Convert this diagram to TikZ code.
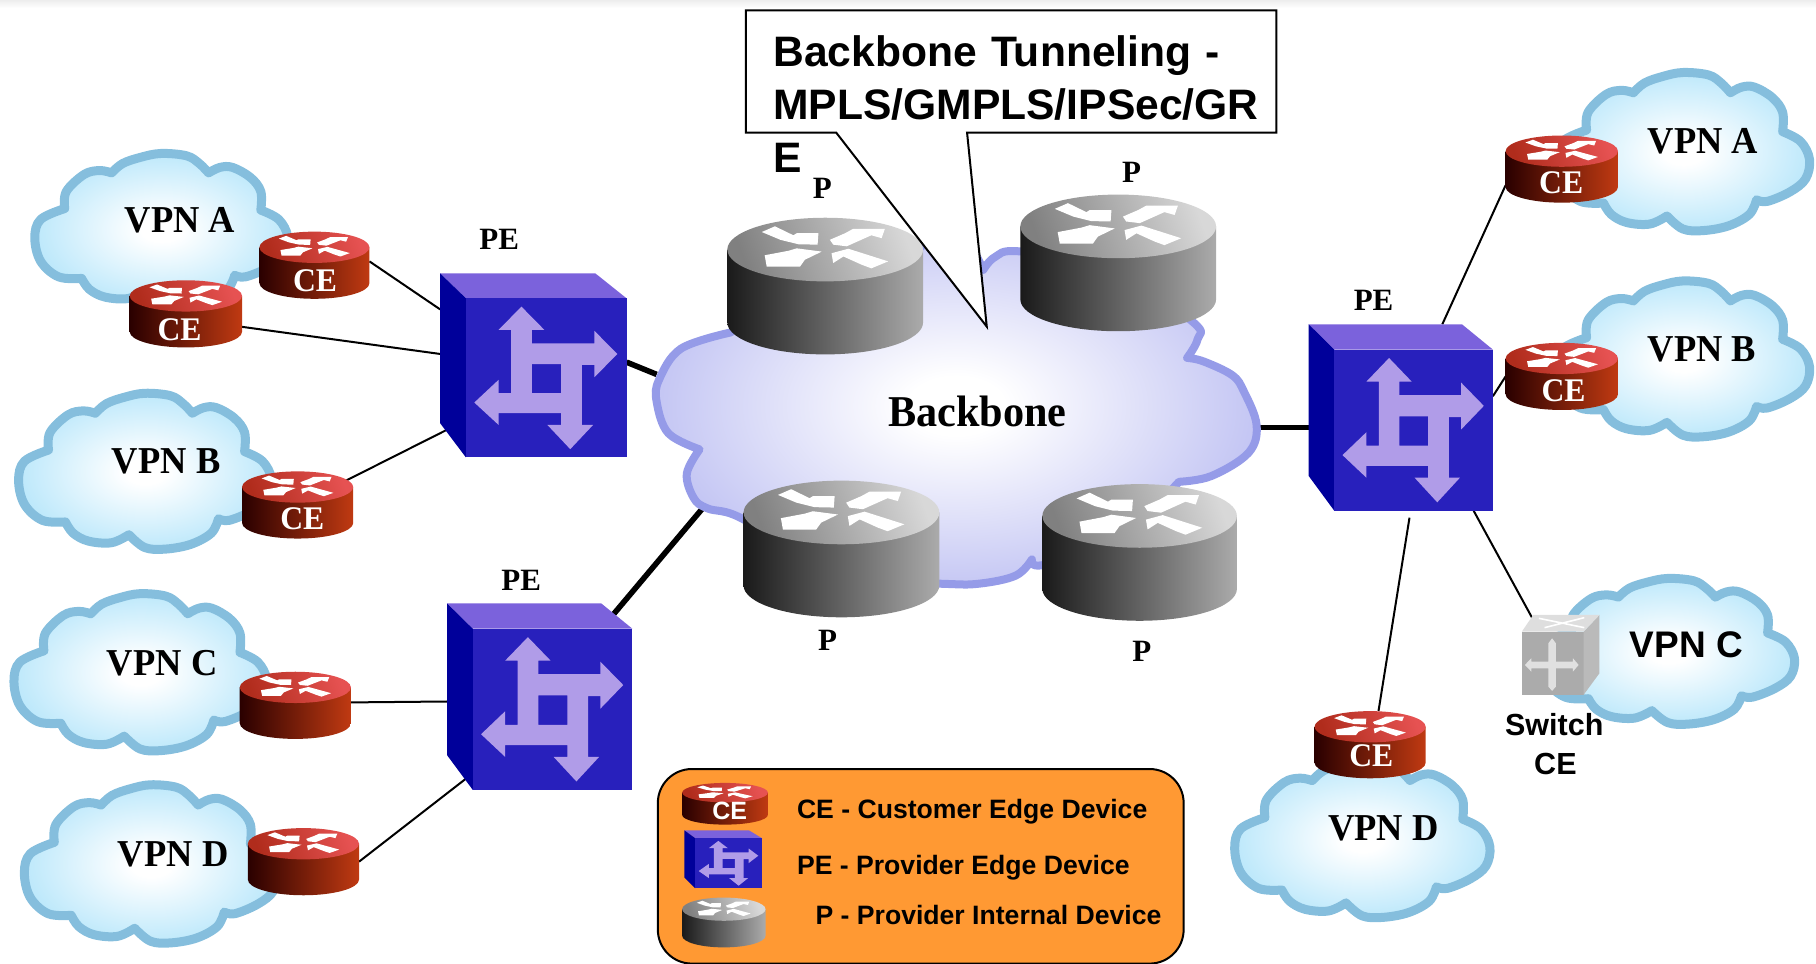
\documentclass[tikz,border=0pt]{standalone}
\usepackage{fontspec}
\setmainfont{Liberation Serif}
\newfontfamily\arl{Liberation Sans}
\usetikzlibrary{calc}
\pgfdeclarelayer{conn}\pgfdeclarelayer{cld}\pgfdeclarelayer{dev}
\pgfsetlayers{conn,cld,dev,main}
\def\U{1.15816}
\definecolor{bodyLP}{HTML}{1A1A1A}\definecolor{bodyRP}{HTML}{ABABAB}
\definecolor{topLP}{HTML}{808080}\definecolor{topRP}{HTML}{D8D8D8}
\definecolor{bodyLC}{HTML}{2A0000}\definecolor{bodyRC}{HTML}{C03A12}
\definecolor{topLC}{HTML}{B02C1C}\definecolor{topRC}{HTML}{E65252}
\definecolor{vpnline}{HTML}{85BEDD}\definecolor{bbline}{HTML}{959BE8}
\definecolor{peTop}{HTML}{7B62DC}\definecolor{peSide}{HTML}{00009A}
\definecolor{peFace}{HTML}{2820BC}\definecolor{peSym}{HTML}{B09CE8}
\definecolor{legendbg}{HTML}{FF9933}
\pgfdeclareradialshading{vpnshade}{\pgfpoint{0bp}{0bp}}{rgb(0bp)=(1,1,1); rgb(4bp)=(1,1,1); rgb(30bp)=(.68,.89,.98); rgb(100bp)=(.68,.89,.98)}
\pgfdeclareradialshading{bbshade}{\pgfpoint{0bp}{0bp}}{rgb(0bp)=(1,1,1); rgb(4bp)=(1,1,1); rgb(32bp)=(.69,.70,.94); rgb(100bp)=(.69,.70,.94)}
\tikzset{
  devnode/.style={inner sep=0pt,outer sep=0pt,draw=none,fill=none,rectangle},
  serif/.style={inner sep=0pt,font=\bfseries\fontsize{#1}{#1}\selectfont},
  sans/.style={inner sep=0pt,font=\arl\bfseries\fontsize{#1}{#1}\selectfont},
  thin link/.style={line width=2pt,black},
  thick link/.style={line width=5.6pt,black},
  topmark/.style={fill=white,draw=none},
}
\newcommand{\cnd}[1]{\scalebox{.96}[1]{#1}}
\newcommand{\devbox}[5]{%
  \pgfmathsetmacro\bw{(#4-#2)*\U}\pgfmathsetmacro\bh{(#5-#3)*\U}%
  \node[devnode,minimum width=\bw pt,minimum height=\bh pt] (#1) at ({(#2+#4)/2},{(#3+#5)/2}) {};}
% router: name x0 y0 x1 y1 scheme
\newcommand{\rtr}[6]{%
  \devbox{#1}{#2}{#3}{#4}{#5}%
  \begin{pgfonlayer}{dev}
  \pgfmathsetmacro\sx{(#4-#2)/477}\pgfmathsetmacro\sy{(#5-#3)/335}%
  \begin{scope}[shift={(#2,#3)},xscale=\sx,yscale=\sy]
    \shade[left color=bodyL#6,right color=bodyR#6] (0,78) -- (0,257) arc[start angle=180,end angle=0,x radius=238.5,y radius=78] -- (477,78) -- cycle;
    \shade[bottom color=topL#6,top color=topR#6,shading angle=-70] (238.5,78) ellipse[x radius=238.5,y radius=78];
    \fill[topmark] (84,35) -- (116,21) -- (161,43) -- (169,38) -- (222,38) -- (220,66) -- (173,65) -- (129,54) -- cycle;
    \fill[topmark] (250,54) -- (287,38) -- (307,27) -- (384,27) -- (376,50) -- (351,43) -- (291,70) -- (258,66) -- cycle;
    \fill[topmark] (91,92) -- (149,81) -- (169,75) -- (230,83) -- (189,103) -- (177,120) -- (96,120) -- cycle;
    \fill[topmark] (254,87) -- (295,76) -- (392,107) -- (351,124) -- (327,115) -- (283,95) -- (258,111) -- cycle;
  \end{scope}
  \end{pgfonlayer}}
% provider edge box
\newcommand{\pedev}[5]{%
  \devbox{#1}{#2}{#3}{#4}{#5}%
  \begin{pgfonlayer}{dev}
  \pgfmathsetmacro\sx{(#4-#2)/447}\pgfmathsetmacro\sy{(#5-#3)/553}%
  \begin{scope}[shift={(#2,#3)},xscale=\sx,yscale=\sy]
    \fill[peTop] (0,0) -- (372,0) -- (447,75) -- (62,75) -- cycle;
    \fill[peSide] (0,0) -- (62,75) -- (62,553) -- (0,450) -- cycle;
    \fill[peFace] (62,75) rectangle (447,553);
    \fill[peSym,even odd rule] (195,100) -- (250,170) -- (220,170) -- (220,210) -- (370,210) -- (370,173) -- (425,242) -- (370,312) -- (370,275) -- (340,275) -- (340,455) -- (367,455) -- (312,528) -- (257,455) -- (290,455) -- (290,420) -- (140,420) -- (140,455) -- (82,388) -- (140,320) -- (140,360) -- (170,360) -- (170,170) -- (140,170) -- cycle (220,273) rectangle (290,360);
  \end{scope}
  \end{pgfonlayer}}
\def\vpnoutline{plot[smooth,tension=.6] coordinates {(30.7,14) (35,8) (42,4) (50,1.5) (60,3) (65,8) (68.6,14)}
      -- plot[smooth,tension=.6] coordinates {(68.6,14) (73,10.5) (78,10.5) (85,17) (89,26) (89,38)}
      -- plot[smooth,tension=.6] coordinates {(89,38) (96,44) (99.5,55) (98,67) (92,75) (83,81) (78.8,80)}
      -- plot[smooth,tension=.6] coordinates {(78.8,80) (76,89) (68,96) (58,99) (50,98) (43.8,90)}
      -- plot[smooth,tension=.6] coordinates {(43.8,90) (37,95) (28,94) (22,89) (19,82)}
      -- plot[smooth,tension=.6] coordinates {(19,82) (10,81) (3,71) (0.7,56) (3,44) (12.4,37)}
      -- plot[smooth,tension=.6] coordinates {(12.4,37) (13,26) (20,15) (26,12.5) (30.7,14)} -- cycle}
\def\bboutline{plot[smooth,tension=.6] coordinates {(631,287) (588,301) (569,328) (567,347) (577,374) (604,388)}
  -- plot[smooth,tension=.6] coordinates {(604,388) (593,409) (599,430) (611,439) (643,449) (720,500) (812,504) (845,504) (877,497) (891,483)}
  -- plot[smooth,tension=.6] coordinates {(891,483) (900,488) (960,470) (1018,416)}
  -- plot[smooth,tension=.6] coordinates {(1018,416) (1046,411) (1078,391) (1085,367) (1074,338) (1064,324) (1039,312) (1025,309)}
  -- plot[smooth,tension=.6] coordinates {(1025,309) (1034,293) (1030,278) (960,230) (880,217) (859,222) (849,233)}
  -- plot[smooth,tension=.6] coordinates {(849,233) (825,195) (797,212) (780,220) (700,235) (631,287)} -- cycle}
% cloud: name x0 y0 x1 y1
\newcommand{\cldvpn}[5]{%
  \devbox{#1}{#2}{#3}{#4}{#5}%
  \begin{pgfonlayer}{cld}
  \pgfmathsetmacro\sx{(#4-#2-5)/100}\pgfmathsetmacro\sy{(#5-#3-5)/100}%
  \begin{scope}[shift={(#2+2.5,#3+2.5)},xscale=\sx,yscale=\sy]
    \shade[shading=vpnshade] \vpnoutline;
  \end{scope}
  \begin{scope}[shift={(#2+2.5,#3+2.5)},xscale=\sx,yscale=\sy,line width=9pt]
    \draw[vpnline,line width=9pt,line join=round] \vpnoutline;
  \end{scope}
  \end{pgfonlayer}}
\begin{document}
\begin{tikzpicture}[x=1.15816pt,y=-1.15816pt]
\useasboundingbox (0,0) rectangle (1568,831.5);
\begin{pgfonlayer}{conn}
  \shade[top color=black!7,bottom color=white] (0,0) rectangle (1568,7);
\end{pgfonlayer}

% clouds
\cldvpn{vpnAl}{26}{128}{252}{267}
\cldvpn{vpnBl}{12}{335}{238}{478}
\cldvpn{vpnCl}{8}{508}{234}{652}
\cldvpn{vpnDl}{17}{673}{243}{818}
\cldvpn{vpnAr}{1340}{58}{1566}{203}
\cldvpn{vpnBr}{1340}{238}{1566}{381}
\cldvpn{vpnCr}{1327}{495}{1553}{629}
\cldvpn{vpnDb}{1062}{652}{1290}{796}
\devbox{bbone}{567}{197}{1085}{504}
\begin{pgfonlayer}{cld}
\shade[shading=bbshade] \bboutline;
\draw[bbline,line width=8pt,line join=round] \bboutline;
% legend panel
\draw[fill=legendbg,draw=black,line width=2pt,rounded corners=34pt] (568,664) rectangle (1022,832);
\end{pgfonlayer}

% routers
\rtr{ceA1}{224}{200}{319}{258}{C}
\rtr{ceA2}{112}{242}{209}{300}{C}
\rtr{ceB}{209}{407}{305}{465}{C}
\rtr{ceC}{207}{580}{303}{638}{C}
\rtr{ceDl}{214}{715}{310}{773}{C}
\rtr{ceAr}{1300}{117}{1397}{175}{C}
\rtr{ceBr}{1300}{296}{1397}{354}{C}
\rtr{ceDb}{1135}{614}{1231}{672}{C}
\rtr{p1}{628}{188}{797}{306}{P}
\rtr{p2}{881}{168}{1050}{286}{P}
\rtr{p3}{642}{415}{811}{533}{P}
\rtr{p4}{900}{418}{1068}{536}{P}

% PE boxes
\pedev{pe1}{380}{236}{541}{395}
\pedev{pe2}{386}{521}{546}{682}
\pedev{pe3}{1130}{280}{1289}{441}

% switch CE
\devbox{swc}{1314}{531}{1381}{600}
\begin{pgfonlayer}{dev}
\begin{scope}[shift={(1314,531)},xscale={67/205},yscale={69/240}]
  \fill[black!33] (0,50) rectangle (163,240);
  \fill[black!27] (163,50) -- (205,0) -- (205,175) -- (163,240) -- cycle;
  \fill[black!13] (0,50) -- (30,0) -- (205,0) -- (163,50) -- cycle;
  \draw[white,line width=1.6pt] (45,10) -- (165,38) (60,38) -- (165,8);
  \fill[black!12] (70,85) -- (80,70) -- (90,85) -- (90,140) -- (135,140) -- (135,130) -- (150,150) -- (135,170) -- (135,160) -- (90,160) -- (90,215) -- (80,228) -- (70,215) -- (70,160) -- (25,160) -- (25,170) -- (8,150) -- (25,130) -- (25,140) -- (70,140) -- cycle;
\end{scope}
\end{pgfonlayer}

% free ends of connectors that finish inside a shape
\coordinate (pe1sw) at (392,368);
\coordinate (pe2sw) at (404,671);
\coordinate (pe2ne) at (525,536);
\coordinate (bbsw) at (620,423);
\coordinate (swtop) at (1327,541);

% connectors
\begin{pgfonlayer}{conn}
  \draw[thin link] (ceA1.4) -- (pe1.149);
  \draw[thin link] (ceA2.-13) -- (pe1.173);
  \draw[thin link] (ceB.center) -- (pe1sw);
  \draw[thin link] (ceC.3) -- (pe2.183);
  \draw[thin link] (ceDl.east) -- (pe2sw);
  \draw[thin link] (ceAr.196) -- (pe3.66.2);
  \draw[thin link] (ceBr.west) -- (pe3.13);
  \draw[thin link] (pe3.-52.6) -- (swtop);
  \draw[thin link,shorten >=7pt] (ceDb.76) -- (pe3.-84.7);
  \draw[thick link] (pe1.2) -- (bbone.174);
  \draw[thick link] (pe2ne) -- (bbsw);
  \draw[thick link] (pe3.west |- 0,369) -- (bbone.east |- 0,369);
\end{pgfonlayer}

% callout
\coordinate (ctip) at (852,282);
\coordinate (cb1) at (722,114.5);
\coordinate (cb2) at (835,114.5);
\filldraw[fill=white,draw=black,line width=2pt,line join=miter] (644,9) -- (1102,9) -- (1102,114.5) -- (cb2) -- (ctip) -- (cb1) -- (644,114.5) -- cycle;
\node[inner sep=0pt,anchor=north west,align=left,text width=480pt,font=\arl\bfseries\fontsize{42.6}{53}\selectfont] (calltxt) at (667.5,30.5)
  {Backbone Tunneling -\\MPLS/GMPLS/IPSec/GR\\E};

% labels
\node[serif=38] (tAl) at (155.5,190.5) {\cnd{VPN A}};
\node[serif=38] (tBl) at (143.5,398) {\cnd{VPN B}};
\node[serif=38] (tCl) at (140,572.5) {\cnd{VPN C}};
\node[serif=38] (tDl) at (149.5,738) {\cnd{VPN D}};
\node[serif=38] (tAr) at (1470.5,122) {\cnd{VPN A}};
\node[serif=38] (tBr) at (1469.5,301.5) {\cnd{VPN B}};
\node[sans=37] (tCr) at (1456,556.5) {VPN C};
\node[serif=38] (tDb) at (1194.5,715.5) {\cnd{VPN D}};
\node[serif=44] (tbb) at (844,355) {\cnd{Backbone}};
\node[serif=31] (tpe1) at (431,207) {PE};
\node[serif=31] (tpe2) at (450,501) {PE};
\node[serif=31] (tpe3) at (1186,259) {PE};
\node[serif=31] (tp1) at (710,162.5) {P};
\node[serif=31] (tp2) at (977,148.5) {P};
\node[serif=31] (tp3) at (714.5,552.5) {P};
\node[serif=31] (tp4) at (986,562.5) {P};
\node[serif=33,text=white] (lc1) at (272,242.5) {\cnd{CE}};
\node[serif=33,text=white] (lc2) at (155,284.5) {\cnd{CE}};
\node[serif=33,text=white] (lc3) at (261,447.5) {\cnd{CE}};
\node[serif=33,text=white] (lc4) at (1348,157.5) {\cnd{CE}};
\node[serif=33,text=white] (lc5) at (1350,337.5) {\cnd{CE}};
\node[serif=33,text=white] (lc6) at (1184,652.5) {\cnd{CE}};
\node[sans=30.5] (tsw1) at (1342,625.5) {Switch};
\node[sans=30.5] (tsw2) at (1343,659.5) {CE};

% legend
\rtr{lgC}{589}{676}{663}{712}{C}
\pedev{lgPE}{591}{717}{658}{767}
\rtr{lgP}{589}{775}{661}{818}{P}
\node[sans=25,text=white] (lgCt) at (630,700) {CE};
\node[sans=26.6,anchor=west] (lg1) at (688,701) {CE - Customer Edge Device};
\node[sans=26.6,anchor=west] (lg2) at (688,749) {PE - Provider Edge Device};
\node[sans=26.6,anchor=west] (lg3) at (704,790) {P - Provider Internal Device};
\end{tikzpicture}
\end{document}
